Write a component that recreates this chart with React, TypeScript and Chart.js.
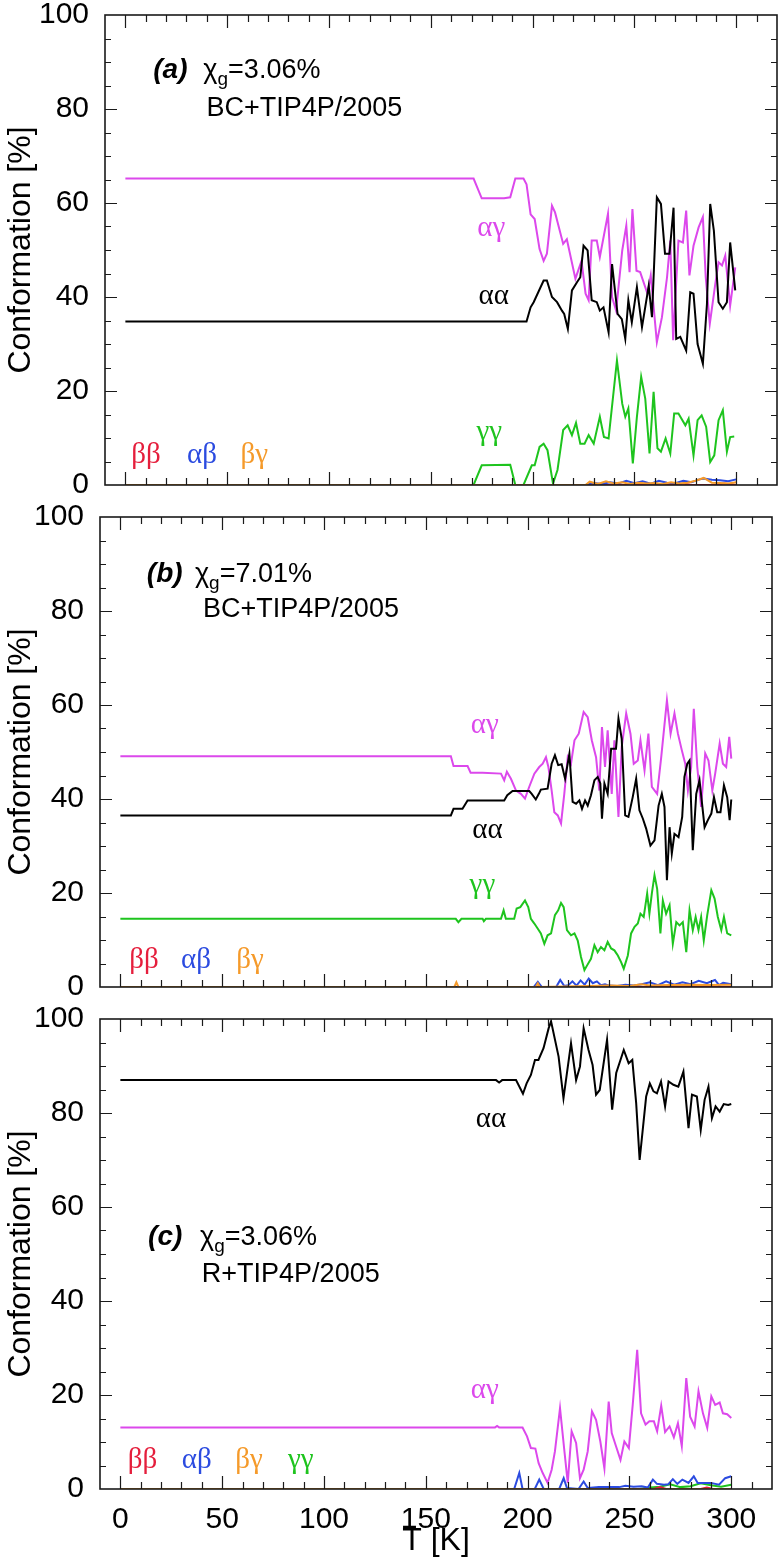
import React, { useEffect, useRef } from "react";
import { Chart, registerables } from "chart.js";

Chart.register(...registerables);

const SANS = "'Liberation Sans', Arial, Helvetica, sans-serif";
const SERIF = "'Liberation Serif', 'Times New Roman', Times, serif";

// ---- axes ----
const xTickValues = [0, 50, 100, 150, 200, 250, 300];
const yTickValues = [0, 20, 40, 60, 80, 100];
const X_MIN = -10;
const X_MAX = 320;
const xTitle = "T [K]";
const yTitle = "Conformation [%]";

// ---- colours ----
const C_AA = "#000000";
const C_AG = "#DC48EC";
const C_GG = "#1EC41E";
const C_AB = "#2B4BE0";
const C_BG = "#F59A2A";
const C_BB = "#E51E3C";

// ================= Panel (a) =================
const aT_ag = [0,171,175,186,189,191.5,195.5,197,199,201,203.4,205.4,207,209.5,211,215,216.8,221,224,226,227.5,229,231.5,233,237,239,241,244,246,247.6,249,251,252.8,256.4,258,261,263.5,266,267.6,269,271.6,273.8,275.4,277,279,281.5,283.6,285,287,289.7,291.3,293,294.6,297,299.5];
const aV_ag = [65.2,65.2,61,61,61.2,65.2,65.2,64,57.6,56.6,50.2,47.7,49.2,59.4,58,51.3,52.3,43.9,47.7,40.7,39.3,52,52,48.5,57.7,40,37.1,49.9,55.2,45.3,58.7,45.6,45.3,40.7,44.6,30.4,35.7,44.2,52,30.8,52,51.6,58.4,44.6,50.9,54.8,57,44.2,34.3,42.8,47.4,46.7,48.8,38.2,46.3];

const aT_aa = [0,197,199,200.5,205.4,207,209.5,212,214.4,215.5,217.3,219.3,221.7,223.4,225,227,229,231.5,233,234.8,237.3,239,241.7,243.8,245.5,247,248.7,251.2,253.7,257,258.6,261,263,265,267.2,269.2,270.5,272.5,275.4,277.4,279,281,283.6,285.6,287.2,289,291.3,293.4,295.4,297,299.5];
const aV_aa = [34.8,34.8,37.8,38.9,43.5,43.5,40,38.9,37.1,36.4,33.2,41.4,43.1,44.2,50.9,49.9,39.3,38.9,37.1,37.8,32.5,47,36.4,35.3,31.1,39.3,34.6,42.1,33.6,42.4,35.7,61.2,59.8,49.2,49.2,59,31.1,31.5,28.6,41,40.7,30,25.8,38.5,59.8,54.1,38.9,37.5,38.9,51.6,41.4];

const aT_gg = [0,171,175,189,191.5,195.5,199.6,201,203.4,205.4,207.3,210,212.2,215,217.2,219.3,221.3,223.4,225.5,227.5,230,233,235,237.3,241.4,244,245.5,247,249.2,251.2,253.3,255.3,257.4,259.4,261.3,263,265.3,267.6,269.5,271.6,275,276.6,279,281,283,285.2,287.2,289.2,291.3,293.4,295.4,297,299];
const aV_gg = [0,0,4.2,4.3,0,0,4.2,4.2,8.1,8.8,7.4,0.3,3.2,11.7,12.7,10.6,13.2,8.8,8.8,10.6,8.8,14.5,10.2,9.9,26.5,17.3,14.5,16.3,4.6,14.5,23,18.4,6.7,19.8,7.8,7.1,9.9,6.7,15.2,15.2,12.7,14.1,6.3,13.8,14.8,12.4,4.9,6.3,13.8,15.9,7.1,10.2,10.3];

const aT_ab = [0,226,230,234,238,242,246,250,254,258,262,266,270,274,278,282,284,288,292,296,300];
const aV_ab = [0,0,0.4,0.2,0.6,0.3,0.9,0.4,0.8,0.3,0.9,0.5,0.4,0.9,0.6,1.2,1.4,1.1,1.0,0.8,1.2];

const aT_bg = [0,226,228,232,236,240,244,248,252,256,260,264,268,272,276,280,284,288,292,296,300];
const aV_bg = [0,0,0.7,0.2,0.8,0.3,0.6,0.2,0.5,0.3,0.4,0.2,0.6,0.3,0.5,0.9,1.5,0.5,0.4,0.3,0.6];

const aT_bb = [0,270,274,278,290,294,300];
const aV_bb = [0,0,0.3,0,0,0.3,0];

// ================= Panel (b) =================
const bT_ag = [0,162.3,163.6,170.5,172,177.9,186.9,188.5,189.8,191.8,194.3,196.7,198.7,200.8,203.3,205.7,207.4,209,210.2,211.8,213.1,214.8,216.4,218,219.7,221.3,223,225.1,227.5,229.5,231.5,233.6,235.2,236.5,238,239.3,241.3,242.6,244.6,246.2,248.4,250.5,252.1,254.1,255.4,257.4,259.3,261,263.6,265.6,268.4,270.2,272.1,273.8,275.7,277.4,278.7,280.3,281.6,283.3,285.2,287.2,288.8,290.7,292.1,294.3,295.9,297.5,299,300];
const bV_ag = [49.1,49.1,47,47,45.6,45.6,45.4,44,45.8,44.3,41.8,41.1,40.1,42.6,45.4,46.8,47.5,48.9,46.8,41.8,37.2,36.5,34.8,41.1,48.9,47.5,52.5,53.9,58.5,57.4,52.5,48.9,41.8,55.3,46.8,54.6,41.1,52.5,36.2,51.1,58.2,53.9,47.5,48.2,52.5,46.1,53.9,42.6,41.1,48.9,61,53.9,58.2,53.9,50.4,47.5,41.8,46.8,59.2,46.8,38.3,49.7,48.2,41.8,45.4,51.8,47.5,46.8,53.2,48.6];

const bT_aa = [0,162.3,163.6,168,169,170.5,188.5,190,192.6,200.8,202,204,205.5,206.5,209.8,211.8,213.4,215,216.7,218.4,220.5,222.1,223.8,225.4,226.7,228.2,229.5,231.1,232.8,234.4,235.7,236.5,237.7,239.3,241,243.4,244.6,246.2,247.9,249.5,251.6,253.3,254.9,256.6,258.2,260.3,262.3,264.3,265.9,267.2,268.4,269.7,270.8,272.1,274.1,275.9,277,278.4,279.5,281.1,282.8,284.4,286.9,288.5,290.2,291.5,293.1,294.7,296.4,298,299.2,300];
const bV_aa = [36.5,36.5,37.9,37.9,38.6,39.7,39.7,40.8,41.7,41.7,41.1,39.9,41.1,42,42.2,47.5,49.3,47.2,47.4,44.3,49.6,39.4,39,39.7,37.9,39.7,38.6,40.8,44,44.7,43.3,35.8,43.3,41.1,50.7,50.7,57.1,52.8,36.5,36.2,40.4,44.3,37.6,35.8,33.7,30.1,31.2,38.6,41.1,38.3,22.7,34,28.4,32.6,31.9,36.2,44.7,47.5,48.2,29.1,41.1,44,34,35.5,36.9,40.4,37.2,37.2,42.9,40.4,35.5,39.9];

const bT_gg = [0,164.7,166,167.5,177.9,178.5,179.5,186.9,188.2,189.3,193.4,194.6,196.4,198.7,200.3,201.6,203.3,205,206.5,208.2,209.8,211.5,213.4,215,216.4,217.7,219.3,221.3,223,224.6,226.2,227.9,229.2,231.1,232.8,234.4,236,237.7,239.3,241,242.6,244.3,245.9,247.2,249.2,250.8,252.5,254.1,255.4,257,258.7,259.8,261,262.3,263.6,265.2,266.4,268,269.7,271.3,273,274.6,276.2,277.9,279.5,281.1,282.5,283.9,285.2,286.5,288.2,290.2,291.8,293.4,295.1,296.4,298,300];
const bV_gg = [14.5,14.5,13.8,14.5,14.5,14,14.5,14.5,16.3,14.5,14.5,16.7,17,18.4,17,14.5,13.5,12.4,11.4,9.2,11,11.4,15.3,16.3,17.9,17,12.1,11,11.4,9.9,6.4,3.6,4.6,6,8.9,7.4,8.5,7.8,9.6,8.2,7.8,6.7,5.3,3.9,6.7,11.4,12.8,13.5,15.6,14.9,19.9,15.6,19.9,23.8,20.9,11.4,18.4,15.6,17.4,9.2,13.8,13.1,13.8,7.4,16.3,12.1,14.9,12.1,14.9,9.9,15.3,20.6,18.8,14.9,12.1,14.9,11.4,11];

const bT_ab = [0,203,205,207,209,214,216,218,220,222,224,226,228,230,232,234,236,238,240,244,248,252,256,260,264,268,272,276,280,284,288,292,294,296,300];
const bV_ab = [0,0,1.1,0,0,0,1.5,0.2,0.4,1.2,0.3,1.4,0.5,1.8,0.8,1.2,0.4,0.6,0.3,0.2,0.5,0.3,0.6,1.0,0.4,1.2,0.5,1.0,0.6,1.3,0.8,1.5,0.4,0.9,0.6];

const bT_bg = [0,164,165,166,204,205,206,230,240,250,256,260,270,280,290,300];
const bV_bg = [0,0,1.0,0,0,0.8,0,0.2,0.3,0.2,0.6,0.3,0.4,0.5,0.4,0.5];

const bT_bb = [0,300];
const bV_bb = [0,0];

// ================= Panel (c) =================
const cT_aa = [0,184.5,186,187.5,194.3,197.7,199.5,201.6,203.6,205.3,207.8,210.3,211.5,215.2,217.6,221.3,223.8,225.7,227.5,229.9,231.9,233.6,235.4,239,241.5,243.5,247.2,249.6,251.4,253.3,255,258.2,260,261.8,263.5,265.5,267.5,269.2,271.6,274,276.5,279,280.7,283.1,285,286.9,288.8,290.5,292.3,294.3,296.3,298.5,300];
const cV_aa = [87,87,86.5,87,87,84.1,86.3,88.1,91.3,91.3,93.8,98,99.5,92,83.1,94.8,87,89.9,98,93.4,90.2,83.9,84.9,95.6,80.7,88.5,93.4,90.6,91.3,82.1,70,83.5,86.3,84.6,84.2,86.7,81.4,86.7,86,85.6,88.8,76.8,83.9,83.5,76.4,82.8,85.6,78.9,81.4,80.3,81.9,81.7,81.9];

const cT_ag = [0,184,185,186,197.5,199.7,201.6,203.8,205.4,207.4,209.8,211.8,213.4,215.9,218,219.7,221.6,223.8,225.7,227.5,229.5,231.6,233.6,235.7,237.7,239.8,241.3,243.4,245.6,247.5,249.7,251.6,253.8,255.7,257.9,259.8,262,263.6,265.6,267.5,269.7,271.8,273.8,275.7,277.9,279.8,282,283.9,286.1,288.2,290.2,292.1,294.3,295.9,298,300];
const cV_ag = [13.1,13.1,13.4,13.1,13.1,11.2,8.7,8.6,5.5,3.4,1.3,4.1,8,17.2,8.3,1.3,12.3,9.8,2.3,4.1,8,16.5,14.7,10.1,4.4,18.6,11.9,9.1,6.2,10.1,8.7,17.9,29.6,16.1,13.7,14.4,14.4,12.3,17.7,12.1,13.3,11,14,9.1,23.6,15.4,13.3,20.8,16.1,13,19.7,17.9,18.4,16.1,15.9,15.1];

const cT_ab = [0,193.4,195.9,197.5,203.5,205.7,207.9,215.5,217.7,219.3,225,227.5,229.5,235,245,248,252,256,259,261.5,263.5,267,269,271.3,273.5,276,279,281.6,283.5,290,294,297,300];
const cV_ab = [0,0,3.4,0,0,2,0,0,2.3,0.2,0,1.6,0.2,0.4,0.4,0.7,0.5,0.6,0.3,2,1.1,0.9,1.0,2.1,1.1,2,1.3,2.7,1.3,1.3,0.9,2.3,2.7];

const cT_gg = [0,255,260,265,270,275,280,285,290,295,300];
const cV_gg = [0,0,0.3,0.5,1.0,0.4,0.6,1.2,0.8,0.5,0.9];

const cT_bb = [0,262,265,268,285,288,291,300];
const cV_bb = [0,0,0.4,0,0,0.3,0,0];

const cT_bg = [0,300];
const cV_bg = [0,0];

type Series = { name: string; t: number[]; v: number[]; color: string };
type Label = { text: string; color: string; x: number; y: number };
type Header = {
  tag: string; tagX: number;
  chiX: number; sub: string; rest: string; line1Y: number;
  line2: string; line2X: number; line2Y: number;
};
type PanelCfg = {
  top: number; height: number; padTop: number; padBottom: number;
  axisWidth: number; padRight: number; showX: boolean;
  series: Series[]; labels: Label[]; header: Header;
};

// series listed top-most first
const panels: PanelCfg[] = [
  {
    top: 0, height: 500, padTop: 15, padBottom: 15, axisWidth: 105, padRight: 3, showX: false,
    series: [
      { name: "βγ", t: aT_bg, v: aV_bg, color: C_BG },
      { name: "αβ", t: aT_ab, v: aV_ab, color: C_AB },
      { name: "ββ", t: aT_bb, v: aV_bb, color: C_BB },
      { name: "γγ", t: aT_gg, v: aV_gg, color: C_GG },
      { name: "αα", t: aT_aa, v: aV_aa, color: C_AA },
      { name: "αγ", t: aT_ag, v: aV_ag, color: C_AG },
    ],
    labels: [
      { text: "αγ", color: C_AG, x: 179.7, y: 52.9 },
      { text: "αα", color: C_AA, x: 180.9, y: 38.6 },
      { text: "γγ", color: C_GG, x: 178.7, y: 9.6 },
      { text: "ββ", color: C_BB, x: 10.1, y: 4.7 },
      { text: "αβ", color: C_AB, x: 37.6, y: 4.7 },
      { text: "βγ", color: C_BG, x: 63.3, y: 4.7 },
    ],
    header: { tag: "(a)", tagX: 13.7, chiX: 38.3, sub: "g", rest: "=3.06%", line1Y: 86.6, line2: "BC+TIP4P/2005", line2X: 39.8, line2Y: 78.6 },
  },
  {
    top: 500, height: 500, padTop: 17, padBottom: 13, axisWidth: 100, padRight: 8, showX: false,
    series: [
      { name: "βγ", t: bT_bg, v: bV_bg, color: C_BG },
      { name: "αβ", t: bT_ab, v: bV_ab, color: C_AB },
      { name: "ββ", t: bT_bb, v: bV_bb, color: C_BB },
      { name: "γγ", t: bT_gg, v: bV_gg, color: C_GG },
      { name: "αα", t: bT_aa, v: bV_aa, color: C_AA },
      { name: "αγ", t: bT_ag, v: bV_ag, color: C_AG },
    ],
    labels: [
      { text: "αγ", color: C_AG, x: 179, y: 54 },
      { text: "αα", color: C_AA, x: 180.3, y: 31.6 },
      { text: "γγ", color: C_GG, x: 177.8, y: 19.9 },
      { text: "ββ", color: C_BB, x: 11.6, y: 4.0 },
      { text: "αβ", color: C_AB, x: 37.1, y: 4.0 },
      { text: "βγ", color: C_BG, x: 63.7, y: 4.0 },
    ],
    header: { tag: "(b)", tagX: 13, chiX: 36.6, sub: "g", rest: "=7.01%", line1Y: 86.1, line2: "BC+TIP4P/2005", line2X: 40.6, line2Y: 78.7 },
  },
  {
    top: 1000, height: 560, padTop: 19, padBottom: 0, axisWidth: 100, padRight: 8, showX: true,
    series: [
      { name: "βγ", t: cT_bg, v: cV_bg, color: C_BG },
      { name: "αβ", t: cT_ab, v: cV_ab, color: C_AB },
      { name: "ββ", t: cT_bb, v: cV_bb, color: C_BB },
      { name: "γγ", t: cT_gg, v: cV_gg, color: C_GG },
      { name: "αα", t: cT_aa, v: cV_aa, color: C_AA },
      { name: "αγ", t: cT_ag, v: cV_ag, color: C_AG },
    ],
    labels: [
      { text: "αα", color: C_AA, x: 182, y: 77.1 },
      { text: "αγ", color: C_AG, x: 179, y: 19.4 },
      { text: "ββ", color: C_BB, x: 10.9, y: 4.5 },
      { text: "αβ", color: C_AB, x: 37.5, y: 4.5 },
      { text: "βγ", color: C_BG, x: 63.2, y: 4.5 },
      { text: "γγ", color: C_GG, x: 88.6, y: 4.5 },
    ],
    header: { tag: "(c)", tagX: 13.6, chiX: 39.1, sub: "g", rest: "=3.06%", line1Y: 52, line2: "R+TIP4P/2005", line2X: 40, line2Y: 44.1 },
  },
];

const framePlugin = {
  id: "frameTicks",
  afterDatasetsDraw(chart: any) {
    const { ctx, chartArea } = chart;
    const { left, right, top, bottom } = chartArea;
    const xs = chart.scales.x;
    const ys = chart.scales.y;
    ctx.save();
    ctx.strokeStyle = "#1a1a1a";
    ctx.lineWidth = 1.6;
    ctx.strokeRect(left, top, right - left, bottom - top);
    ctx.lineWidth = 1.2;
    ctx.beginPath();
    for (let t = 0; t <= 310; t += 10) {
      const px = Math.round(xs.getPixelForValue(t)) + 0.5;
      const len = t % 50 === 0 ? 13 : 7;
      ctx.moveTo(px, bottom);
      ctx.lineTo(px, bottom - len);
      ctx.moveTo(px, top);
      ctx.lineTo(px, top + len);
    }
    for (let v = 5; v < 100; v += 5) {
      const py = Math.round(ys.getPixelForValue(v)) + 0.5;
      const len = v % 20 === 0 ? 12 : 6;
      ctx.moveTo(left, py);
      ctx.lineTo(left + len, py);
      ctx.moveTo(right, py);
      ctx.lineTo(right - len, py);
    }
    ctx.stroke();
    ctx.restore();
  },
};

function makeTextPlugin(cfg: PanelCfg) {
  return {
    id: "panelText",
    afterDatasetsDraw(chart: any) {
      const { ctx } = chart;
      const xs = chart.scales.x;
      const ys = chart.scales.y;
      ctx.save();
      ctx.textBaseline = "alphabetic";
      // Greek labels
      ctx.font = `29px ${SERIF}`;
      ctx.textAlign = "center";
      for (const l of cfg.labels) {
        ctx.fillStyle = l.color;
        ctx.fillText(l.text, xs.getPixelForValue(l.x), ys.getPixelForValue(l.y));
      }
      // header
      const h = cfg.header;
      ctx.textAlign = "left";
      ctx.fillStyle = "#000";
      const y1 = ys.getPixelForValue(h.line1Y);
      ctx.font = `italic bold 28px ${SANS}`;
      ctx.fillText(h.tag, xs.getPixelForValue(h.tagX), y1);
      let x = xs.getPixelForValue(h.chiX);
      ctx.font = `27px ${SANS}`;
      ctx.fillText("χ", x, y1);
      x += ctx.measureText("χ").width;
      ctx.font = `19px ${SANS}`;
      ctx.fillText(h.sub, x, y1 + 7);
      x += ctx.measureText(h.sub).width;
      ctx.font = `27px ${SANS}`;
      ctx.fillText(h.rest, x, y1);
      ctx.fillText(h.line2, xs.getPixelForValue(h.line2X), ys.getPixelForValue(h.line2Y));
      ctx.restore();
    },
  };
}

function buildChart(canvas: HTMLCanvasElement, cfg: PanelCfg) {
  return new Chart(canvas, {
    type: "line",
    data: {
      datasets: cfg.series.map((s) => ({
        label: s.name,
        data: s.t.map((t, i) => ({ x: t, y: s.v[i] })),
        borderColor: s.color,
        backgroundColor: s.color,
        borderWidth: 2,
        pointRadius: 0,
        tension: 0,
        fill: false,
      })),
    },
    options: {
      animation: false,
      responsive: false,
      maintainAspectRatio: false,
      devicePixelRatio: 1,
      layout: { padding: { top: cfg.padTop, bottom: cfg.padBottom, left: 0, right: cfg.padRight } },
      plugins: { legend: { display: false }, tooltip: { enabled: false }, title: { display: false } },
      scales: {
        x: {
          type: "linear",
          min: X_MIN,
          max: X_MAX,
          display: cfg.showX,
          grid: { display: false },
          border: { display: false },
          afterBuildTicks: (s: any) => {
            s.ticks = xTickValues.map((v) => ({ value: v }));
          },
          afterFit: (s: any) => {
            s.height = cfg.showX ? 71 : 0;
            s.paddingLeft = 0;
            s.paddingRight = 0;
          },
          ticks: {
            font: { family: SANS, size: 30 },
            color: "#000",
            padding: 5,
            maxRotation: 0,
            autoSkip: false,
            callback: (v: any) => String(v),
          },
          title: {
            display: cfg.showX,
            text: xTitle,
            font: { family: SANS, size: 32 },
            color: "#000",
            padding: 0,
          },
        },
        y: {
          type: "linear",
          min: 0,
          max: 100,
          grid: { display: false },
          border: { display: false },
          afterBuildTicks: (s: any) => {
            s.ticks = yTickValues.map((v) => ({ value: v }));
          },
          afterFit: (s: any) => {
            s.width = cfg.axisWidth;
            s.paddingTop = 0;
            s.paddingBottom = 0;
          },
          ticks: {
            font: { family: SANS, size: 30 },
            color: "#000",
            padding: 8,
            callback: (v: any) => String(v),
          },
          title: {
            display: true,
            text: yTitle,
            font: { family: SANS, size: 32 },
            color: "#000",
            padding: { top: 2, bottom: 0 },
          },
        },
      },
    },
    plugins: [framePlugin, makeTextPlugin(cfg)],
  } as any);
}

export default function App() {
  const r0 = useRef<HTMLCanvasElement>(null);
  const r1 = useRef<HTMLCanvasElement>(null);
  const r2 = useRef<HTMLCanvasElement>(null);

  useEffect(() => {
    const refs = [r0, r1, r2];
    const charts = panels.map((p, i) => buildChart(refs[i].current as HTMLCanvasElement, p));
    return () => charts.forEach((c) => c.destroy());
  }, []);

  const refs = [r0, r1, r2];
  return (
    <div style={{ position: "absolute", left: 0, top: 0, width: 780, height: 1560, background: "#fff" }}>
      {panels.map((p, i) => (
        <div key={i} style={{ position: "absolute", left: 0, top: p.top, width: 780, height: p.height }}>
          <canvas ref={refs[i]} width={780} height={p.height} style={{ width: 780, height: p.height, display: "block" }} />
        </div>
      ))}
    </div>
  );
}
